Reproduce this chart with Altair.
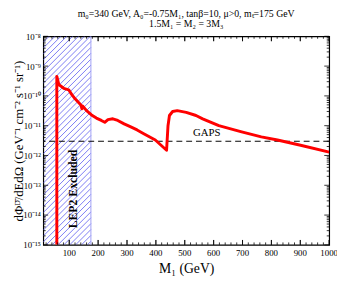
import altair as alt
import pandas as pd
import numpy as np

# ---- data ----
m1 = [57, 57, 64, 81, 98, 109, 121, 138, 140.5, 144, 147, 160, 177, 194, 211, 223,
      234, 251, 268, 290, 313, 335, 358, 398, 437, 442, 447, 458, 474, 505, 539,
      562, 618, 697, 765, 821, 901, 1000]
flux = [1e-15, 4.5e-10, 2.4e-10, 1.8e-10, 1.6e-10, 1.1e-10, 7.8e-11, 5.2e-11, 5.0e-11,
        3.7e-11, 4.5e-11, 3.2e-11, 2.3e-11, 1.8e-11, 1.5e-11, 1.3e-11, 1.6e-11,
        1.7e-11, 1.5e-11, 1.15e-11, 9.1e-12, 7.2e-12, 5.4e-12, 3.3e-12, 1.5e-12,
        1.0e-11, 2.2e-11, 3.0e-11, 3.2e-11, 2.8e-11, 2.2e-11, 1.7e-11, 1.0e-11,
        6.2e-12, 4.2e-12, 3.3e-12, 2.2e-12, 1.3e-12]
gaps_level = 3.0e-12
lep2_limit = 175
x_domain = [10, 1000]
y_domain = [1e-15, 1e-8]
x_major = list(range(100, 1001, 100))
x_labels = [str(v) for v in x_major]
x_minor = list(range(20, 1001, 20))
y_major_exp = list(range(-15, -7))
y_labels = ["10⁻¹⁵", "10⁻¹⁴", "10⁻¹³", "10⁻¹²", "10⁻¹¹", "10⁻¹⁰", "10⁻⁹", "10⁻⁸"]

W, H = 292, 213
FONT = "Liberation Serif"

xs = alt.Scale(domain=x_domain, nice=False, zero=False)
ys = alt.Scale(type="log", domain=y_domain, nice=False)

# pixel -> data helpers (used only for decorative hatch and tick lengths)
def px2x(p):
    return x_domain[0] + p * (x_domain[1] - x_domain[0]) / W
def py2y(p):  # p measured upward from bottom
    return 10 ** (-15 + p * 7 / H)

curve_df = pd.DataFrame({"m1": m1, "flux": flux, "order": range(len(m1))})

# hatch lines of the excluded region (diagonal in screen space)
hx_max = (lep2_limit - x_domain[0]) / (x_domain[1] - x_domain[0]) * W
segs = []
for c in np.arange(-H, hx_max, 6.0):
    s, e = max(0.0, c), min(hx_max, c + H)
    if s < e:
        segs.append({"x": px2x(s), "y": py2y(s - c), "x2": px2x(e), "y2": py2y(e - c)})
hatch_df = pd.DataFrame(segs)

x_axis = alt.Axis(title="M₁ (GeV)", values=x_major, ticks=False, domain=False, grid=False,
                  labels=False,
                  titleFont=FONT, titleFontSize=14, titleFontWeight="normal",
                  titlePadding=17, titleColor="black")
y_axis = alt.Axis(title="dΦᴰ̄/dEdΩ (GeV⁻¹ cm⁻² s⁻¹ sr⁻¹)",
                  values=[10.0 ** e for e in y_major_exp], ticks=False, domain=False,
                  grid=False, labelOverlap=False, labelFlush=False,
                  labelExpr="[" + ",".join("'" + l + "'" for l in y_labels) +
                            "][round(log(datum.value)/LN10)+15]",
                  labelFont=FONT, labelFontSize=9, labelPadding=3, labelColor="black",
                  titleFont=FONT, titleFontSize=13, titleFontWeight="normal",
                  titleAngle=270, titleX=-25, titleY=H / 2, titleAlign="center",
                  titleBaseline="middle", titleColor="black")

X = lambda f: alt.X(f, scale=xs)
Y = lambda f: alt.Y(f, scale=ys)

hatch = alt.Chart(hatch_df).mark_rule(color="#5a5af0", strokeWidth=0.8, clip=True).encode(
    x=alt.X("x:Q", scale=xs, axis=x_axis), y=alt.Y("y:Q", scale=ys, axis=y_axis),
    x2="x2:Q", y2="y2:Q")

edge = alt.Chart(pd.DataFrame({"x": [lep2_limit]})).mark_rule(
    color="#9f9ff5", strokeWidth=1).encode(x=X("x:Q"))

curve = alt.Chart(curve_df).mark_line(color="#ff0000", strokeWidth=3, clip=True,
                                      strokeJoin="round").encode(
    x=X("m1:Q"), y=Y("flux:Q"), order="order:Q")

gaps = alt.Chart(pd.DataFrame({"y": [gaps_level]})).mark_rule(
    color="black", strokeWidth=1, strokeDash=[6, 4]).encode(y=Y("y:Q"))

gaps_text = alt.Chart(pd.DataFrame({"x": [576], "y": [gaps_level], "t": ["GAPS"]})).mark_text(
    font=FONT, fontSize=11, baseline="bottom", dy=-3, color="black").encode(
    x=X("x:Q"), y=Y("y:Q"), text="t:N")

lep_text = alt.Chart(pd.DataFrame({"x": [112], "y": [7.5e-14], "t": ["LEP2 Excluded"]})).mark_text(
    font=FONT, fontSize=12, fontWeight="bold", angle=270, color="black").encode(
    x=X("x:Q"), y=Y("y:Q"), text="t:N")

# x tick labels (drawn as text at the bottom of the scale)
xlab = alt.Chart(pd.DataFrame({"x": x_major, "y": [y_domain[0]] * len(x_major),
                               "t": x_labels})).mark_text(
    font=FONT, fontSize=9, baseline="top", dy=4, color="black").encode(
    x=X("x:Q"), y=Y("y:Q"), text="t:N")

# inward ticks on all four sides (lengths converted to data units)
rows = []
for v in x_major + x_minor:
    L = 5 if v in x_major else 2.5
    rows.append({"x": v, "x2": v, "y": py2y(0), "y2": py2y(L)})
    rows.append({"x": v, "x2": v, "y": py2y(H), "y2": py2y(H - L)})
for e in y_major_exp:
    vals = [(10.0 ** e, 5)] + ([(k * 10.0 ** e, 2.5) for k in range(2, 10)] if e < -8 else [])
    for v, L in vals:
        rows.append({"x": px2x(0), "x2": px2x(L), "y": v, "y2": v})
        rows.append({"x": px2x(W), "x2": px2x(W - L), "y": v, "y2": v})
ticks = alt.Chart(pd.DataFrame(rows)).mark_rule(color="black", strokeWidth=0.8).encode(
    x=X("x:Q"), x2="x2:Q", y=Y("y:Q"), y2="y2:Q")

chart = alt.layer(
    hatch, edge, gaps, curve, gaps_text, lep_text, xlab, ticks
).properties(
    width=W, height=H,
    title=alt.Title(["m₀=340 GeV,  A₀=-0.75M₁, tanβ=10, μ>0, mₜ=175 GeV",
                     "1.5M₁ = M₂ = 3M₃"],
                    font=FONT, fontSize=10, fontWeight="normal", color="black",
                    anchor="middle", offset=3, lineHeight=11),
    autosize=alt.AutoSizeParams(type="none"),
    padding={"left": 36, "top": 26, "right": 8, "bottom": 34},
).configure_view(stroke="black", strokeWidth=1.2)

chart.save("out.html", embed_options={"renderer": "svg", "actions": False})
